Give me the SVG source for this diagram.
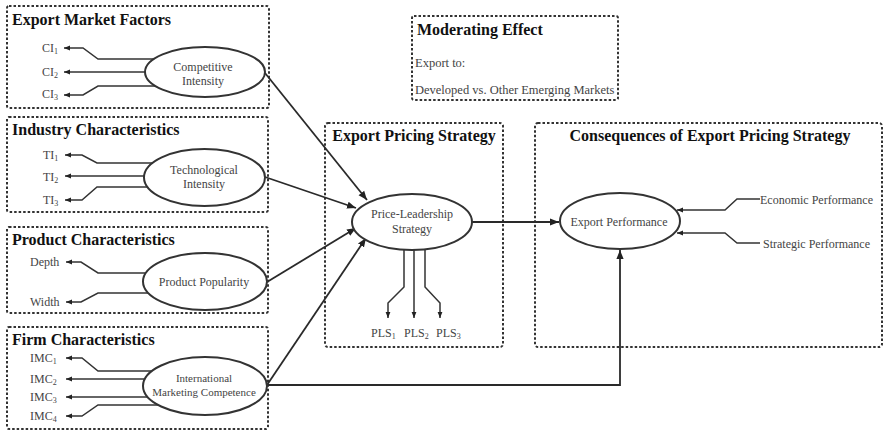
<svg xmlns="http://www.w3.org/2000/svg" width="884" height="434" viewBox="0 0 884 434">
<defs>
<style>
text{font-family:'Liberation Serif','Tinos','Times New Roman','DejaVu Serif','Noto Serif',serif}
.box{fill:none;stroke:#333;stroke-width:2;stroke-dasharray:2.5 2}
.ell{fill:#fff;stroke:#333;stroke-width:2}
.title{font-weight:bold;font-size:16px;fill:#111}
.lbl{font-size:12px;fill:#444}
.mod{font-size:12.5px;fill:#444}
.sm{font-size:11px;fill:#444}
.ln{fill:none;stroke:#333;stroke-width:1.5}
.main{fill:none;stroke:#2a2a2a;stroke-width:1.8}
</style>
<marker id="as" viewBox="0 0 10 10" refX="10" refY="5" markerWidth="6" markerHeight="6" orient="auto" markerUnits="userSpaceOnUse"><path d="M0,1 L10,5 L0,9 z" fill="#222"/></marker>
<marker id="al" viewBox="0 0 10 10" refX="10" refY="5" markerWidth="9" markerHeight="9" orient="auto" markerUnits="userSpaceOnUse"><path d="M0,1 L10,5 L0,9 z" fill="#222"/></marker>
</defs>
<rect width="884" height="434" fill="#fff"/>

<g id="box-export-market">
<rect class="box" x="7" y="6" width="262" height="102" rx="2"/>
<text class="title" x="12" y="25">Export Market Factors</text>
<text class="lbl" x="42" y="52">CI<tspan font-size="8" dy="2">1</tspan></text>
<text class="lbl" x="42" y="76">CI<tspan font-size="8" dy="2">2</tspan></text>
<text class="lbl" x="42" y="98">CI<tspan font-size="8" dy="2">3</tspan></text>
</g>
<g id="box-industry">
<rect class="box" x="7" y="117" width="261" height="95" rx="2"/>
<text class="title" x="12" y="135">Industry Characteristics</text>
<text class="lbl" x="43" y="159">TI<tspan font-size="8" dy="2">1</tspan></text>
<text class="lbl" x="43" y="181">TI<tspan font-size="8" dy="2">2</tspan></text>
<text class="lbl" x="43" y="204">TI<tspan font-size="8" dy="2">3</tspan></text>
</g>
<g id="box-product">
<rect class="box" x="7" y="227" width="261" height="86" rx="2"/>
<text class="title" x="12" y="245">Product Characteristics</text>
<text class="lbl" x="30" y="266">Depth</text>
<text class="lbl" x="30" y="306">Width</text>
</g>
<g id="box-firm">
<rect class="box" x="7" y="327" width="261" height="102" rx="2"/>
<text class="title" x="12" y="345">Firm Characteristics</text>
<text class="lbl" x="30" y="362">IMC<tspan font-size="8" dy="2">1</tspan></text>
<text class="lbl" x="30" y="383">IMC<tspan font-size="8" dy="2">2</tspan></text>
<text class="lbl" x="30" y="401">IMC<tspan font-size="8" dy="2">3</tspan></text>
<text class="lbl" x="30" y="420">IMC<tspan font-size="8" dy="2">4</tspan></text>
</g>
<g id="box-moderating">
<rect class="box" x="412" y="16" width="206" height="84" rx="2"/>
<text class="title" x="417" y="35">Moderating Effect</text>
<text class="mod" x="415" y="67">Export to:</text>
<text class="mod" x="415" y="94">Developed vs. Other Emerging Markets</text>
</g>
<g id="box-pricing">
<rect class="box" x="325" y="123" width="178" height="224" rx="3"/>
<text class="title" x="414" y="141" text-anchor="middle">Export Pricing Strategy</text>
<text class="lbl" x="371" y="337">PLS<tspan font-size="8" dy="2">1</tspan></text>
<text class="lbl" x="404" y="337">PLS<tspan font-size="8" dy="2">2</tspan></text>
<text class="lbl" x="436" y="337">PLS<tspan font-size="8" dy="2">3</tspan></text>
</g>
<g id="box-consequences">
<rect class="box" x="535" y="123" width="347" height="224" rx="3"/>
<text class="title" x="710" y="141" text-anchor="middle">Consequences of Export Pricing Strategy</text>
<text class="lbl" x="760" y="204">Economic Performance</text>
<text class="lbl" x="763" y="248">Strategic Performance</text>
</g>

<g id="connectors">
<path class="ln" marker-end="url(#as)" d="M153.7,59 H98 L83,48 H64"/>
<path class="ln" marker-end="url(#as)" d="M145,72 H64"/>
<path class="ln" marker-end="url(#as)" d="M155.3,86 H98 L83,95 H64"/>

<path class="ln" marker-end="url(#as)" d="M152.4,163 H97 L82,155 H65"/>
<path class="ln" marker-end="url(#as)" d="M144,176 H65"/>
<path class="ln" marker-end="url(#as)" d="M147.5,187 H97 L82,200 H65"/>

<path class="ln" marker-end="url(#as)" d="M145.8,273 H98 L81,262 H66"/>
<path class="ln" marker-end="url(#as)" d="M148.3,293 H98 L81,302 H66"/>

<path class="ln" marker-end="url(#as)" d="M151.9,371 H98 L82,358 H66"/>
<path class="ln" marker-end="url(#as)" d="M144.8,379 H66"/>
<path class="ln" marker-end="url(#as)" d="M147.6,397 H66"/>
<path class="ln" marker-end="url(#as)" d="M158.1,405 H98 L82,416 H66"/>

<path class="ln" marker-end="url(#as)" d="M404,250 V287 L388,303 V318"/>
<path class="ln" marker-end="url(#as)" d="M414,250 V318"/>
<path class="ln" marker-end="url(#as)" d="M425,250 V287 L440,303 V318"/>

<path class="ln" marker-end="url(#as)" d="M760,199 H737 L725,210 H677"/>
<path class="ln" marker-end="url(#as)" d="M760,243 H737 L725,233 H677"/>

<path class="main" marker-end="url(#al)" d="M265,73 L367,200"/>
<path class="main" marker-end="url(#al)" d="M265,177 L356,208"/>
<path class="main" marker-end="url(#al)" d="M267,282 L356,228"/>
<path class="main" marker-end="url(#al)" d="M267,385 L366,238"/>
<path class="main" marker-end="url(#al)" d="M472,222 H559"/>
<path class="main" marker-end="url(#al)" d="M267,385 H620 V250"/>
</g>

<g id="node-competitive">
<ellipse class="ell" cx="205" cy="72" rx="60" ry="25"/>
<text class="lbl" x="203" y="71" text-anchor="middle">Competitive</text>
<text class="lbl" x="203" y="85" text-anchor="middle">Intensity</text>
</g>
<g id="node-technological">
<ellipse class="ell" cx="204.5" cy="177.5" rx="60.5" ry="28.5"/>
<text class="lbl" x="204" y="174" text-anchor="middle">Technological</text>
<text class="lbl" x="204" y="188" text-anchor="middle">Intensity</text>
</g>
<g id="node-product">
<ellipse class="ell" cx="205" cy="281.5" rx="62" ry="28.5"/>
<text class="lbl" x="204" y="286" text-anchor="middle">Product Popularity</text>
</g>
<g id="node-imc">
<ellipse class="ell" cx="205" cy="386" rx="62" ry="29"/>
<text class="sm" x="204" y="382" text-anchor="middle">International</text>
<text class="sm" x="204" y="396" text-anchor="middle">Marketing Competence</text>
</g>
<g id="node-price-leadership">
<ellipse class="ell" cx="412" cy="222" rx="60" ry="28"/>
<text class="lbl" x="412" y="218" text-anchor="middle">Price-Leadership</text>
<text class="lbl" x="412" y="233" text-anchor="middle">Strategy</text>
</g>
<g id="node-export-performance">
<ellipse class="ell" cx="620" cy="221" rx="60" ry="28"/>
<text class="lbl" x="619" y="226" text-anchor="middle">Export Performance</text>
</g>
</svg>
